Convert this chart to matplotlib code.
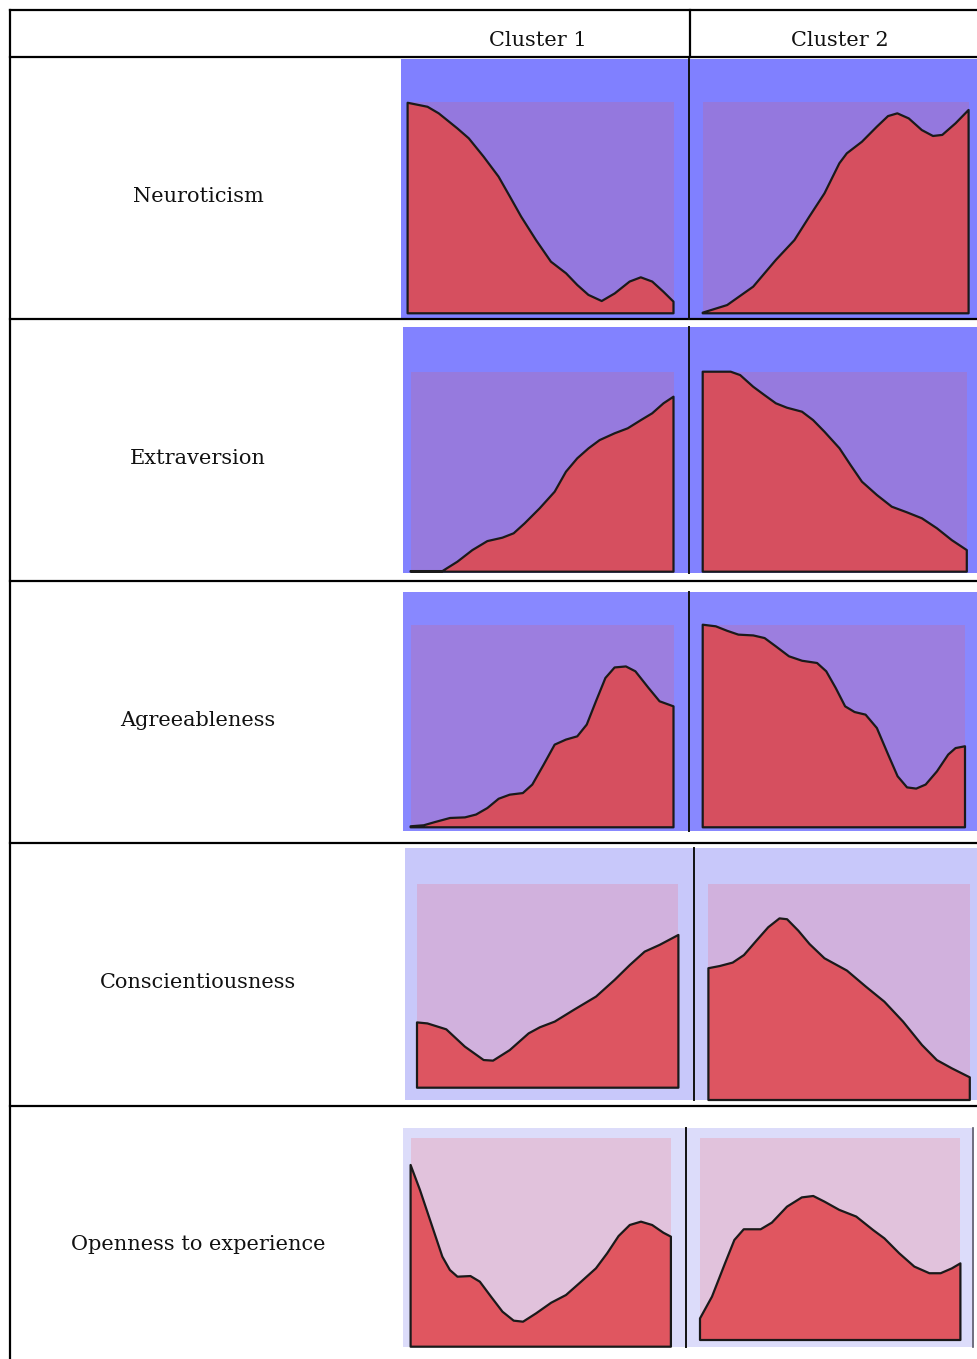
import numpy as np
import matplotlib
matplotlib.use("Agg")
import matplotlib.pyplot as plt

W, H = 977, 1359

traits = ["Neuroticism", "Extraversion", "Agreeableness",
          "Conscientiousness", "Openness to experience"]
clusters = ["Cluster 1", "Cluster 2"]

# density curves, x and height both scaled 0..1
neuro_c1_x = [0, .075, .117, .187, .230, .286, .342, .385, .427, .483, .539,
              .596, .638, .680, .730, .779, .835, .877, .920, .962, 1.0]
neuro_c1_y = [.995, .976, .945, .874, .827, .740, .646, .551, .457, .346, .244,
              .189, .134, .087, .058, .094, .150, .170, .150, .102, .055]
neuro_c2_x = [0, .092, .190, .275, .345, .401, .458, .514, .542, .599, .655,
              .697, .732, .775, .824, .866, .901, .951, 1.0]
neuro_c2_y = [.003, .039, .126, .252, .346, .457, .567, .709, .756, .811, .882,
              .932, .945, .921, .866, .838, .843, .898, .961]

extra_c1_x = [0, .121, .178, .235, .292, .349, .392, .434, .491, .548, .591,
              .634, .677, .719, .776, .826, .876, .919, .962, 1.0]
extra_c1_y = [.003, .003, .05, .108, .153, .17, .192, .242, .317, .40, .50,
              .567, .617, .658, .692, .717, .758, .792, .842, .875]
extra_c2_x = [0, .05, .106, .142, .191, .234, .277, .319, .376, .418, .461,
              .518, .560, .603, .660, .716, .773, .83, .887, .943, 1.0]
extra_c2_y = [1.0, 1.0, 1.0, .983, .925, .883, .842, .82, .80, .758, .70,
              .617, .533, .45, .383, .325, .297, .267, .217, .158, .108]

agree_c1_x = [0, .05, .093, .15, .207, .249, .292, .335, .377, .427, .463, .506,
              .548, .591, .634, .67, .705, .741, .776, .819, .855, .905, .947, 1.0]
agree_c1_y = [.005, .01, .026, .046, .049, .063, .095, .141, .161, .169, .211, .309,
              .408, .433, .449, .507, .622, .737, .789, .794, .77, .688, .622, .597]
agree_c2_x = [0, .05, .093, .136, .193, .236, .279, .329, .379, .436, .471, .507,
              .543, .579, .621, .664, .707, .743, .779, .814, .85, .893, .936, .964, 1.0]
agree_c2_y = [1.0, .992, .970, .951, .947, .934, .893, .844, .822, .811, .77, .688,
              .597, .569, .556, .49, .359, .252, .197, .191, .211, .276, .359, .391, .40]

consc_c1_x = [0, .04, .112, .183, .255, .291, .355, .427, .47, .527, .599, .685,
              .756, .814, .871, .928, 1.0]
consc_c1_y = [.321, .316, .287, .202, .136, .133, .185, .267, .297, .325, .382, .448,
              .53, .603, .669, .702, .751]
consc_c2_x = [0, .043, .093, .136, .186, .229, .272, .301, .344, .387, .444, .53,
              .602, .673, .745, .817, .874, .931, 1.0]
consc_c2_y = [.611, .621, .637, .672, .742, .801, .842, .838, .785, .723, .657, .60,
              .526, .456, .363, .255, .185, .147, .105]

open_c1_x = [0, .036, .079, .122, .151, .18, .23, .266, .309, .353, .396, .432,
             .482, .54, .597, .655, .712, .755, .799, .842, .885, .928, .971, 1.0]
open_c1_y = [.872, .752, .592, .432, .368, .336, .339, .312, .24, .168, .125, .12,
             .16, .211, .248, .312, .376, .448, .531, .584, .60, .584, .547, .528]
open_c2_x = [0, .046, .096, .132, .168, .233, .276, .334, .391, .435, .478, .535,
             .60, .665, .708, .765, .823, .881, .924, .967, 1.0]
open_c2_y = [.107, .215, .38, .496, .549, .549, .582, .661, .707, .714, .686, .645,
             .612, .545, .504, .43, .364, .331, .331, .355, .38]

curves = [
    [(neuro_c1_x, neuro_c1_y), (neuro_c2_x, neuro_c2_y)],
    [(extra_c1_x, extra_c1_y), (extra_c2_x, extra_c2_y)],
    [(agree_c1_x, agree_c1_y), (agree_c2_x, agree_c2_y)],
    [(consc_c1_x, consc_c1_y), (consc_c2_x, consc_c2_y)],
    [(open_c1_x, open_c1_y), (open_c2_x, open_c2_y)],
]

# layout in pixels: outer box, divider, two inner plot boxes (x0, x1, top, base)
row_lines = [57, 319, 581, 843, 1106]
panels = [
    dict(outer=(401, 59, 977, 319), div=689, bg="#8080ff", inner="#9478de", red="#d64f5f",
         boxes=[(407.6, 673.5, 101.7, 313.3), (702.7, 968.6, 101.7, 313.3)]),
    dict(outer=(403, 327, 977, 573), div=689, bg="#8282ff", inner="#967ade", red="#d64f5f",
         boxes=[(410.6, 673.5, 371.7, 571.7), (702.7, 966.8, 371.7, 571.7)]),
    dict(outer=(403, 592, 977, 831), div=689, bg="#8888ff", inner="#9c7edf", red="#d64f5f",
         boxes=[(410.6, 673.5, 624.7, 827.3), (702.7, 965.0, 624.7, 827.3)]),
    dict(outer=(405, 848, 977, 1100), div=694, bg="#c8c8fa", inner="#d1b1dd", red="#dd5561",
         boxes=[(417.0, 678.4, 884.3, 1087.7), (708.4, 969.8, 884.3, 1100.0)]),
    dict(outer=(403, 1128, 972, 1347), div=686, bg="#dcdcfa", inner="#e1c2dc", red="#e05660",
         boxes=[(410.6, 670.9, 1138.3, 1346.7), (700.0, 960.4, 1138.3, 1340.0)]),
]


def px_axes(fig, x0, y0, x1, y1, **kw):
    return fig.add_axes([x0 / W, 1 - y1 / H, (x1 - x0) / W, (y1 - y0) / H], **kw)


def bare(ax):
    ax.set_xticks([])
    ax.set_yticks([])
    for s in ax.spines.values():
        s.set_visible(False)


fig = plt.figure(figsize=(W / 100, H / 100), dpi=100)
fig.patch.set_facecolor("white")

for p, pair in zip(panels, curves):
    bg = px_axes(fig, *p["outer"])
    bg.set_facecolor(p["bg"])
    bare(bg)
    for (x0, x1, top, base), (xs, ys) in zip(p["boxes"], pair):
        ax = px_axes(fig, x0, top, x1, base)
        ax.set_facecolor(p["inner"])
        bare(ax)
        xs = np.asarray(xs)
        ys = np.asarray(ys)
        ax.fill(np.r_[xs[0], xs, xs[-1]], np.r_[0, ys, 0], facecolor=p["red"],
                edgecolor="#1a1a1a", linewidth=1.6, joinstyle="round", clip_on=False)
        ax.set_xlim(0, 1)
        ax.set_ylim(0, 1)

# table grid and text on top
tab = fig.add_axes([0, 0, 1, 1], zorder=10)
tab.set_xlim(0, W)
tab.set_ylim(H, 0)
tab.axis("off")
tab.patch.set_alpha(0)

lw = 1.6
tab.plot([10, W], [10, 10], color="black", lw=lw)
tab.plot([10, 10], [10, H], color="black", lw=lw)
for y in row_lines:
    tab.plot([10, W], [y, y], color="black", lw=lw)
tab.plot([690, 690], [10, 57], color="black", lw=lw)
for p in panels:
    tab.plot([p["div"], p["div"]], [p["outer"][1], p["outer"][3]], color="#111111", lw=1.4)
tab.plot([973, 973], [1128, 1347], color="#55556a", lw=1.2)

font = dict(family="DejaVu Serif", fontsize=15, color="#111111")
tab.text(538, 41, clusters[0], ha="center", va="center", **font)
tab.text(840, 41, clusters[1], ha="center", va="center", **font)
centers = [196, 458, 720, 982, 1244]
for name, yc in zip(traits, centers):
    tab.text(198, yc, name, ha="center", va="center", **font)

fig.savefig("out.png", dpi=100)
